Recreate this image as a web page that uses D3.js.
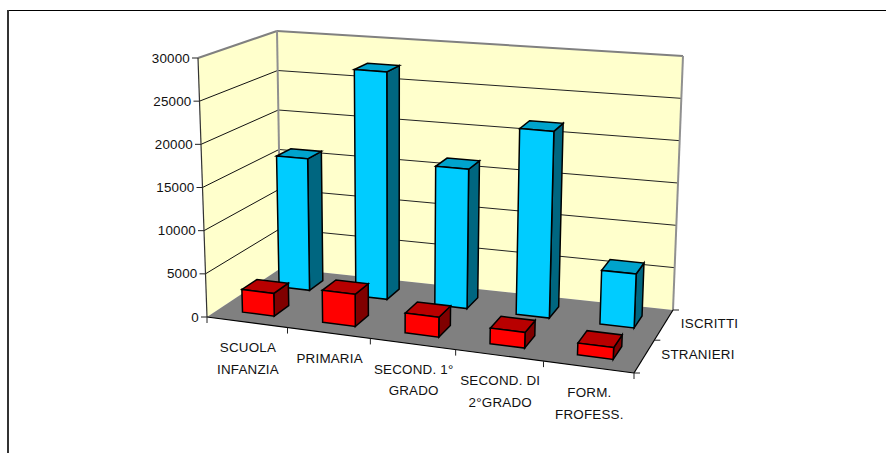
<!DOCTYPE html>
<html>
<head>
<meta charset="utf-8">
<script src="https://cdn.jsdelivr.net/npm/d3@7/dist/d3.min.js"></script>
<style>
html,body{margin:0;padding:0;background:#fff;overflow:hidden}
svg{display:block}
text{font-family:"Liberation Sans",Arial,sans-serif;font-size:13.4px;letter-spacing:0.2px;fill:#111}
</style>
</head>
<body>
<script>
const categories = [["SCUOLA","INFANZIA"],["PRIMARIA"],["SECOND. 1°","GRADO"],["SECOND. DI","2°GRADO"],["FORM.","FROFESS."]];
const seriesNames = ["STRANIERI","ISCRITTI"];
const stranieri = [2650,3700,2250,1750,1300];
const iscritti = [16000,27300,16500,21800,6200];
const valueTicks = [0,5000,10000,15000,20000,25000,30000];

const W = 886, H = 453;
const svg = d3.select("body").append("svg").attr("width",W).attr("height",H);

// Box corners of the 3D frame: [category, depth, height]
const corners = {
  "000":[207,317],"100":[634,373],"010":[281,268],"110":[673,310],
  "001":[198,58], "101":[646,96], "011":[277,31], "111":[683,56]
};
const warp = (t,s) => t/(t+(1-t)*s);
const project = (u,v,h) => {
  const a = warp(u,1.076), b = warp(v,0.92);
  let x=0,y=0;
  for (const i of [0,1]) for (const j of [0,1]) for (const k of [0,1]) {
    const wt = (i?a:1-a)*(j?b:1-b)*(k?h:1-h);
    const c = corners[""+i+j+k];
    x += wt*c[0]; y += wt*c[1];
  }
  return [x,y];
};

const xScale = d3.scaleBand().domain(d3.range(categories.length)).range([0,1]).paddingInner(0.6).paddingOuter(0.3);
const zScale = d3.scaleBand().domain(seriesNames).range([0,1]).paddingInner(0.6).paddingOuter(0.3);
const yScale = d3.scaleLinear().domain([0,30000]).range([0,1]);

const line = d3.line();
const poly = (g,pts,fill,stroke,sw) => g.append("path")
  .attr("d",line(pts)+"Z").attr("fill",fill).attr("stroke",stroke||"none").attr("stroke-width",sw||0).attr("stroke-linejoin","miter");
const seg = (g,a,b,stroke,sw) => g.append("path").attr("d",line([a,b])).attr("fill","none").attr("stroke",stroke).attr("stroke-width",sw);

// outer frame
seg(svg,[7,10.5],[886,10.5],"#000",1);
seg(svg,[8,10],[8,453],"#333",2);

// walls and floor
const walls = svg.append("g");
poly(walls,[project(0,0,0),project(0,1,0),project(0,1,1),project(0,0,1)],"#FFFFCC");
poly(walls,[project(0,1,0),project(1,1,0),project(1,1,1),project(0,1,1)],"#FFFFCC");
poly(walls,[project(0,0,0),project(1,0,0),project(1,1,0),project(0,1,0)],"#808080");

// gridlines
valueTicks.forEach(t=>{
  if (t===0) return;
  const h = yScale(t);
  if (t<30000) {
    seg(walls,project(0,0,h),project(0,1,h),"#111",1);
    seg(walls,project(0,1,h),project(1,1,h),"#222",1);
  }
});
// grey wall outline
const gw = 2;
seg(walls,project(0,0,1),project(0,1,1),"#808080",gw);
seg(walls,project(0,1,1),project(1,1,1),"#808080",gw);
seg(walls,project(0,1,0),project(0,1,1),"#909090",gw);
seg(walls,project(1,1,0),project(1,1,1),"#909090",gw);

// value axis
const axis = svg.append("g");
seg(axis,project(0,0,0),project(0,0,1),"#333",1.2);
valueTicks.forEach(t=>{
  const p = project(0,0,yScale(t));
  seg(axis,[p[0]-6,p[1]],p,"#222",1);
  axis.append("text").attr("x",p[0]-8).attr("y",p[1]+4.5).attr("text-anchor","end").text(t);
});

// floor edges and ticks
seg(axis,project(0,0,0),project(1,0,0),"#000",1.2);
seg(axis,project(1,0,0),project(1,1,0),"#000",1.2);
d3.range(categories.length+1).forEach(i=>{
  const p = project(i/categories.length,0,0);
  seg(axis,p,[p[0],p[1]+6],"#222",1);
});
d3.range(seriesNames.length+1).forEach(i=>{
  const p = project(1,i/seriesNames.length,0);
  seg(axis,p,[p[0]+6,p[1]],"#222",1);
});

// bars, back series first
const bars = svg.append("g");
const drawBar = (i,name,value,front,side,top) => {
  const u0=xScale(i),u1=u0+xScale.bandwidth();
  const v0=zScale(name),v1=v0+zScale.bandwidth();
  const h=yScale(value);
  const g=bars.append("g");
  poly(g,[project(u1,v0,0),project(u1,v1,0),project(u1,v1,h),project(u1,v0,h)],side,"#000",1.5);
  poly(g,[project(u0,v0,h),project(u1,v0,h),project(u1,v1,h),project(u0,v1,h)],top,"#000",1.5);
  poly(g,[project(u0,v0,0),project(u1,v0,0),project(u1,v0,h),project(u0,v0,h)],front,"#000",1.5);
};
iscritti.forEach((d,i)=>drawBar(i,"ISCRITTI",d,"#00CCFF","#006680","#00A3CC"));
stranieri.forEach((d,i)=>drawBar(i,"STRANIERI",d,"#FF0000","#800000","#B80000"));

// category labels
const labels = svg.append("g");
categories.forEach((lines,i)=>{
  const p = project(xScale(i)+xScale.bandwidth()/2,0,0);
  lines.forEach((s,k)=>{
    labels.append("text").attr("x",p[0]+1).attr("y",p[1]+30+k*21.5).attr("text-anchor","middle").text(s);
  });
});
// series labels
seriesNames.forEach(name=>{
  const p = project(1,zScale(name)+zScale.bandwidth()/2,0);
  labels.append("text").attr("x",p[0]+17).attr("y",p[1]+3).text(name);
});
</script>
</body>
</html>
